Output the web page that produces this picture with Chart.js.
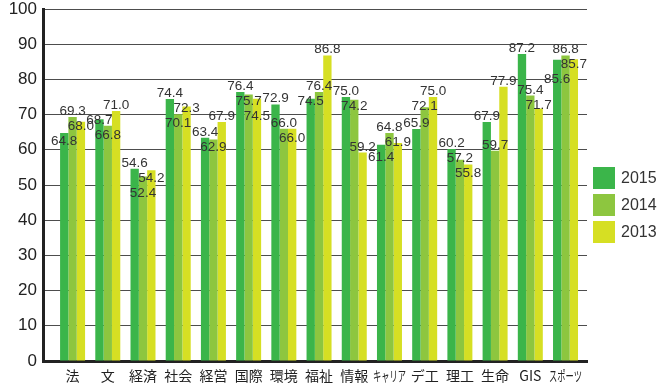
<!DOCTYPE html>
<html>
<head>
<meta charset="utf-8">
<script src="https://cdn.jsdelivr.net/npm/chart.js@4/dist/chart.umd.min.js"></script>
<style>
    html, body { margin: 0; padding: 0; background: #fff; }
    #wrap { position: relative; width: 666px; height: 383px; }
    #legend { position: absolute; left: 593px; top: 167px; font: 16px "Liberation Sans", Arial, sans-serif; color: #333; }
    #legend .item { display: flex; align-items: center; height: 22px; margin-bottom: 5px; }
    #legend .box { width: 22px; height: 22px; margin-right: 6px; }
</style>
</head>
<body>
<div id="wrap">
    <canvas id="scoreChart" width="666" height="383"></canvas>
    <div id="legend"></div>
</div>
<script>
// 学部ごとの満足度 (年度別)
const categories = ['法', '文', '経済', '社会', '経営', '国際', '環境', '福祉', '情報', 'キャリア', 'デ工', '理工', '生命', 'GIS', 'スポーツ'];
const years = ['2015', '2014', '2013'];
const values2015 = [64.8, 68.7, 54.6, 74.4, 63.4, 76.4, 72.9, 74.5, 75.0, 61.4, 65.9, 60.2, 67.9, 87.2, 85.6];
const values2014 = [69.3, 66.8, 52.4, 70.1, 62.9, 75.7, 66.0, 76.4, 74.2, 64.8, 72.1, 57.2, 59.7, 75.4, 86.8];
const values2013 = [68.0, 71.0, 54.2, 72.3, 67.9, 74.5, 66.0, 86.8, 59.2, 61.9, 75.0, 55.8, 77.9, 71.7, 85.7];
const yTicks = [0, 10, 20, 30, 40, 50, 60, 70, 80, 90, 100];

const seriesValues = [values2015, values2014, values2013];
const seriesColors = ['#3bb54a', '#8dc63f', '#d6df23'];

// 値ラベル: グループ内で値の大きい順に上から積み重ねて重なりを避ける
const valueLabels = {
    id: 'valueLabels',
    afterDatasetsDraw(chart) {
        const ctx = chart.ctx;
        ctx.save();
        ctx.font = '13.5px "Liberation Sans", Arial, sans-serif';
        ctx.fillStyle = '#333';
        ctx.textAlign = 'center';
        ctx.textBaseline = 'alphabetic';
        categories.forEach((_, i) => {
            const items = chart.data.datasets.map((ds, d) => {
                const bar = chart.getDatasetMeta(d).data[i];
                return { v: ds.data[i].y, x: bar.x, top: bar.y };
            }).sort((a, b) => b.v - a.v);
            let prev = -Infinity;
            items.forEach(it => {
                const base = Math.max(it.top - 2, prev + 15);
                ctx.fillText(it.v.toFixed(1), it.x, base);
                prev = base;
            });
        });
        ctx.restore();
    }
};

// 横軸の学部名 (長い名前は幅を詰めて描く)
const categoryLabels = {
    id: 'categoryLabels',
    afterDraw(chart) {
        const ctx = chart.ctx;
        const x = chart.scales.x;
        ctx.save();
        ctx.font = '14px "Noto Sans CJK JP", sans-serif';
        ctx.fillStyle = '#222';
        ctx.textAlign = 'center';
        ctx.textBaseline = 'middle';
        categories.forEach((name, i) => {
            ctx.fillText(name, x.getPixelForValue(i), chart.chartArea.bottom + 15, 33);
        });
        ctx.restore();
    }
};

const chart = new Chart(document.getElementById('scoreChart'), {
    type: 'bar',
    data: {
        datasets: years.map((y, d) => ({
            label: y,
            data: seriesValues[d].map((v, i) => ({ x: i, y: v })),
            backgroundColor: seriesColors[d],
            borderWidth: 0,
            categoryPercentage: 0.71,
            barPercentage: 1.0
        }))
    },
    options: {
        responsive: false,
        animation: false,
        layout: { padding: { top: 9, right: 79, bottom: 22, left: 0 } },
        plugins: {
            legend: { display: false },
            tooltip: { enabled: false }
        },
        scales: {
            x: {
                type: 'linear',
                bounds: 'data',
                offset: false,
                min: -0.84,
                max: 14.61,
                afterBuildTicks(scale) { scale.ticks = categories.map((_, i) => ({ value: i })); },
                grid: { display: false, drawTicks: false, offset: false },
                border: { display: true, color: '#222', width: 3 },
                ticks: { display: false }
            },
            y: {
                min: 0,
                max: 100,
                afterFit(scale) {
                    scale.width = 43;
                    scale.paddingTop = 0;
                    scale.paddingBottom = 0;
                },
                afterBuildTicks(scale) { scale.ticks = yTicks.map(v => ({ value: v })); },
                grid: { color: '#4d4d4d', lineWidth: 1, drawTicks: false },
                border: { display: true, color: '#222', width: 3 },
                ticks: {
                    color: '#222',
                    padding: 6,
                    font: { family: '"Liberation Sans", Arial, sans-serif', size: 17 }
                }
            }
        }
    },
    plugins: [valueLabels, categoryLabels]
});

// 凡例
const legend = document.getElementById('legend');
chart.data.datasets.forEach(ds => {
    const item = document.createElement('div');
    item.className = 'item';
    item.innerHTML = `<span class="box" style="background:${ds.backgroundColor}"></span><span>${ds.label}</span>`;
    legend.appendChild(item);
});
</script>
</body>
</html>
